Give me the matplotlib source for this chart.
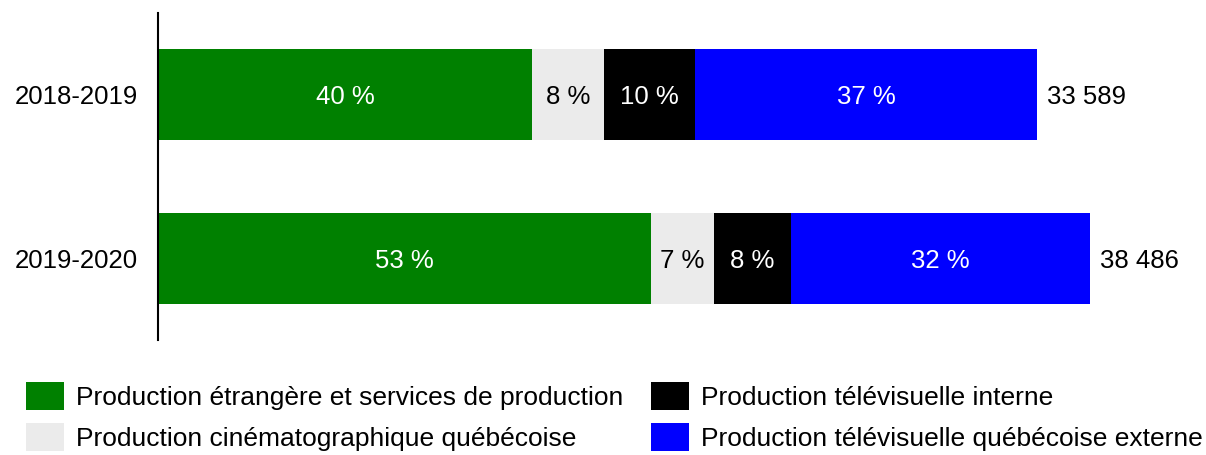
import matplotlib
matplotlib.use('Agg')
import matplotlib.pyplot as plt
import numpy as np

plt.rcParams['font.family'] = ['Liberation Sans', 'DejaVu Sans']

# données
years = ['2018-2019', '2019-2020']
series = ['Production étrangère et services de production',
          'Production cinématographique québécoise',
          'Production télévisuelle interne',
          'Production télévisuelle québécoise externe']
etrangere = [15457, 20358]
cinema = [2961, 2602]
tele_interne = [3770, 3192]
tele_externe = [14123, 12335]
pct_labels = [['40 %', '8 %', '10 %', '37 %'],
              ['53 %', '7 %', '8 %', '32 %']]
totals = ['33 589', '38 486']

colors = ['#008000', '#EBEBEB', '#000000', '#0000FF']
text_colors = ['white', 'black', 'white', 'white']

W, H = 1206, 455
fig = plt.figure(figsize=(W / 100, H / 100), dpi=100)
ax = fig.add_axes([158 / W, 115 / H, 1042 / W, 327 / H])

y = np.arange(len(years))
data = [etrangere, cinema, tele_interne, tele_externe]
left = np.zeros(len(years))
for k, vals in enumerate(data):
    vals = np.array(vals, dtype=float)
    ax.barh(y, vals, left=left, height=0.555, color=colors[k], label=series[k])
    for i in range(len(years)):
        ax.annotate(pct_labels[i][k], (left[i] + vals[i] / 2, y[i]), xytext=(0, -7.0),
                    textcoords='offset points', ha='center', va='baseline',
                    color=text_colors[k], fontsize=18.5)
    left += vals

# totaux à droite des barres
for i in range(len(years)):
    ax.annotate(totals[i], (left[i], y[i]), xytext=(7.2, -7.0), textcoords='offset points',
                ha='left', va='baseline', fontsize=18.5)

ax.set_xlim(0, 43030)
ax.set_ylim(1.5, -0.5)
ax.set_yticks(y)
ax.set_yticklabels(years, fontsize=18.5, va='center_baseline')
ax.tick_params(axis='y', length=0, pad=14.4)
ax.set_xticks([])
for s in ['top', 'right', 'bottom']:
    ax.spines[s].set_visible(False)
ax.spines['left'].set_linewidth(1.5)

fig.legend(loc='upper left', bbox_to_anchor=(26 / W, 1 - 382 / H), ncol=2,
           frameon=False, fontsize=19, borderpad=0, borderaxespad=0,
           handlelength=1.44, handleheight=1.24, handletextpad=0.45,
           columnspacing=1.06, labelspacing=0.5)

fig.savefig('out.png', dpi=100)
